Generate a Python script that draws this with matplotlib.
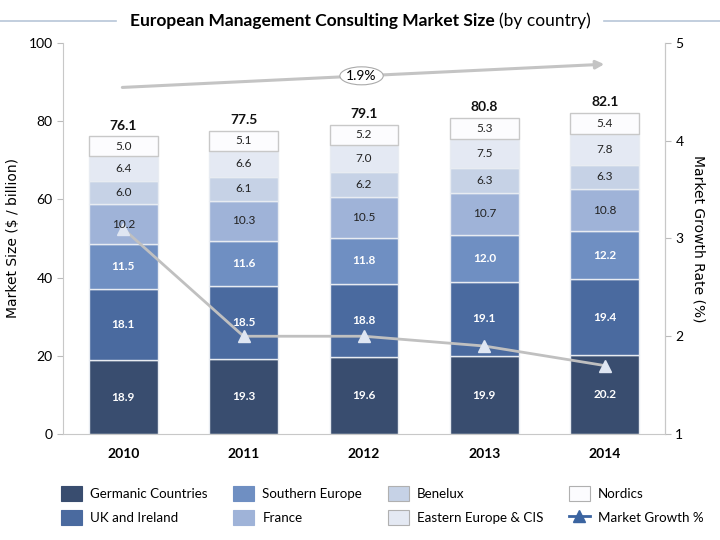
import matplotlib
matplotlib.use("Agg")
import matplotlib.pyplot as plt
from matplotlib.patches import Patch, Ellipse
from matplotlib.lines import Line2D
import numpy as np

plt.rcParams['font.family'] = ['Lato', 'DejaVu Sans']

years = ['2010', '2011', '2012', '2013', '2014']
series_names = ['Germanic Countries', 'UK and Ireland', 'Southern Europe', 'France',
                'Benelux', 'Eastern Europe & CIS', 'Nordics']
germanic = [18.9, 19.3, 19.6, 19.9, 20.2]
uk_ireland = [18.1, 18.5, 18.8, 19.1, 19.4]
southern = [11.5, 11.6, 11.8, 12.0, 12.2]
france = [10.2, 10.3, 10.5, 10.7, 10.8]
benelux = [6.0, 6.1, 6.2, 6.3, 6.3]
eastern = [6.4, 6.6, 7.0, 7.5, 7.8]
nordics = [5.0, 5.1, 5.2, 5.3, 5.4]
totals = [76.1, 77.5, 79.1, 80.8, 82.1]
growth = [3.1, 2.0, 2.0, 1.9, 1.7]
cagr_label = '1.9%'

series = [germanic, uk_ireland, southern, france, benelux, eastern, nordics]
colors = ['#394d6f', '#4a6a9f', '#6f8fc2', '#9fb3d8', '#c6d2e6', '#e4e9f3', '#fcfcfe']
text_colors = ['white', 'white', 'white', '#222222', '#222222', '#222222', '#222222']

fig = plt.figure(figsize=(7.2, 5.4), dpi=100)
ax = fig.add_axes([0.0875, 0.1963, 0.836, 0.7241])
ax2 = ax.twinx()
x = np.arange(len(years))
bottom = np.zeros(len(years))
for vals, c, tc in zip(series, colors, text_colors):
    ax.bar(x, vals, bottom=bottom, width=0.57, color=c, edgecolor='#e8ecf2' if c != '#fcfcfe' else '#c8c8c8',
           linewidth=1.0, zorder=2)
    for xi, b, v in zip(x, bottom, vals):
        ax2.text(xi, b + v / 2, f'{v:.1f}', ha='center', va='center', fontsize=8.5,
                 color=tc, fontweight='bold' if tc == 'white' else 'normal', zorder=8,
                 transform=ax.transData)
    bottom += np.array(vals)

for xi, t in zip(x, totals):
    ax.text(xi, t + 1.2, f'{t:.1f}', ha='center', va='bottom', fontsize=10, fontweight='bold', color='#111111')

ax.set_xlim(-0.5, 4.5)
ax.set_ylim(0, 100)
ax.set_yticks([0, 20, 40, 60, 80, 100])
ax.set_xticks(x)
ax.set_xticklabels(years, fontweight='bold', fontsize=10)
ax.tick_params(axis='x', length=0, pad=10)
ax.tick_params(axis='y', labelsize=10, length=4, color='#bbbbbb')
ax.spines['top'].set_visible(False)
for s in ['left', 'right', 'bottom']:
    ax.spines[s].set_color('#c8c8c8')
ax.set_ylabel('Market Size ($ / billion)', fontsize=10, family='DejaVu Sans', labelpad=6)

# CAGR arrow
ax.annotate('', xy=(4.02, 94.6), xytext=(-0.03, 88.6),
            arrowprops=dict(arrowstyle='-|>', color='#c4c4c4', lw=2.2, mutation_scale=12), zorder=3)
ax.add_patch(Ellipse((1.98, 91.6), 0.36, 4.6, facecolor='white', edgecolor='#aaaaaa', lw=0.8, zorder=4))
ax.text(1.98, 91.6, cagr_label, ha='center', va='center', fontsize=10, zorder=5)

ax2.plot(x, growth, color='#c0c0c0', lw=2, marker='^', markersize=9,
         markerfacecolor='#dfe6f2', markeredgecolor='#dfe6f2', zorder=6)
ax2.set_ylim(1, 5)
ax2.set_yticks([1, 2, 3, 4, 5])
ax2.tick_params(axis='y', labelsize=10, length=4, color='#bbbbbb')
for s in ['top', 'left', 'bottom']:
    ax2.spines[s].set_visible(False)
ax2.spines['right'].set_color('#c8c8c8')
ax2.set_ylabel('Market Growth Rate (%)', fontsize=10, family='DejaVu Sans', rotation=270, labelpad=16)

# Title (bold part + normal part, centred together)
title_y = 0.962
part1 = 'European Management Consulting Market Size '
part2 = '(by country)'
t1 = fig.text(0, title_y, part1, ha='left', va='center', fontsize=12.5, fontweight='bold')
t2 = fig.text(0, title_y, part2, ha='left', va='center', fontsize=12.5)
fig.canvas.draw()
W = fig.bbox.width
w1 = t1.get_window_extent().width
w2 = t2.get_window_extent().width
start = (W - (w1 + w2)) / 2
t1.set_x(start / W)
t2.set_x((start + w1) / W)
fig.add_artist(Line2D([0, (start - 14) / W], [title_y, title_y], color='#b7c6d8', lw=1.2))
fig.add_artist(Line2D([(start + w1 + w2 + 14) / W, 1], [title_y, title_y], color='#b7c6d8', lw=1.2))

handles = [Patch(facecolor=c, edgecolor='#b0b0b0' if i >= 4 else c, lw=0.8) for i, c in enumerate(colors)]
handles.append(Line2D([0], [0], color='#3b64a0', lw=2, marker='^', markersize=8))
labels = series_names + ['Market Growth %']
fig.legend(handles, labels, ncol=4, loc='lower left', bbox_to_anchor=(0.068, 0.005),
           frameon=False, fontsize=9.6, handlelength=1.6, handleheight=1.4, handletextpad=0.6,
           columnspacing=1.9, labelspacing=0.65)

fig.savefig('out.png', dpi=100)
